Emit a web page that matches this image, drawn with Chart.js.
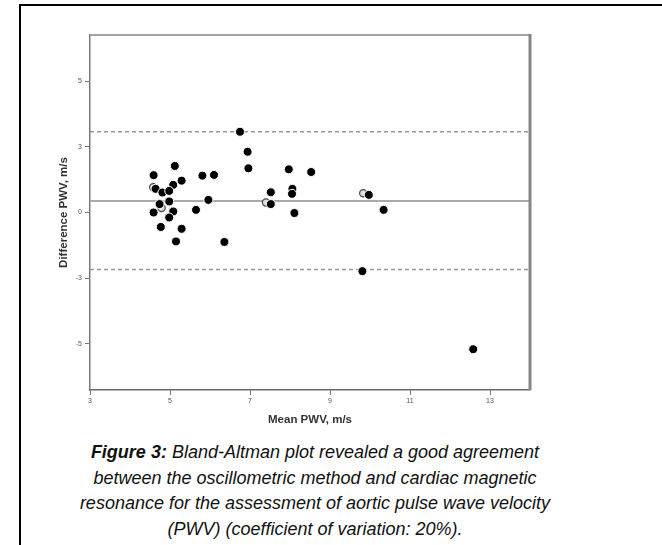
<!DOCTYPE html>
<html>
<head>
<meta charset="utf-8">
<script src="https://cdn.jsdelivr.net/npm/chart.js"></script>
<style>
  html, body { margin: 0; padding: 0; background: #fff; overflow: hidden; }
  body { width: 662px; height: 545px; position: relative; }
  .frame {
    position: absolute; left: 19px; top: 4px; width: 700px; height: 600px;
    border-left: 2px solid #000; border-top: 2px solid #000;
  }
  .plot { position: absolute; left: 0; top: 0; width: 662px; height: 440px; }
  .caption {
    position: absolute; left: 20px; top: 440px; width: 590px;
    text-align: center; font-family: "Liberation Sans", Arial, sans-serif;
    font-style: italic; font-size: 18px; line-height: 25.7px; color: #111;
  }
  .caption span { display: inline-block; transform: scaleX(1.02); }
</style>
</head>
<body>
<div class="frame"></div>
<div class="plot"><canvas id="baChart" width="662" height="440"></canvas></div>
<div class="caption"><b>Figure 3:</b> Bland-Altman plot revealed a good agreement<br>between the oscillometric method and cardiac magnetic<br>resonance for the assessment of aortic pulse wave velocity<br>(PWV) (coefficient of variation: 20%).</div>

<script>
// Datos (media y diferencia de PWV, m/s)
const meanPwv = [5.12, 4.59, 5.29, 5.08, 5.81, 6.10, 6.75, 6.94, 6.96, 4.64, 4.81, 4.98,
                 4.98, 4.74, 5.96, 4.59, 5.08, 4.98, 5.65, 4.77, 5.29, 5.15, 6.36, 7.52,
                 7.52, 7.97, 8.06, 8.05, 8.11, 8.53, 9.97, 10.34, 9.81, 12.58];
const diffPwv = [1.77, 1.42, 1.21, 1.05, 1.40, 1.43, 3.07, 2.31, 1.68, 0.90, 0.76, 0.82,
                 0.42, 0.32, 0.48, 0.00, 0.04, -0.19, 0.10, -0.55, -0.62, -1.10, -1.12, 0.77,
                 0.32, 1.64, 0.90, 0.71, -0.02, 1.54, 0.67, 0.10, -2.23, -5.20];

// Puntos parcialmente tapados por otros
const overlapMean = [4.58, 4.79, 7.40, 9.83];
const overlapDiff = [0.96, 0.17, 0.38, 0.73];

// Media de la diferencia y límites de concordancia
const biasLine = 0.44;
const upperLimit = 3.07;
const lowerLimit = -2.17;

// Ejes
const xRange = [3, 14];
const yRange = [-6.75, 6.75];
const xTickValues = [3, 5, 7, 9, 11, 13];
const xTickLabels = ['3', '5', '7', '9', '11', '13'];
const yTickValues = [-5, -2.5, 0, 2.5, 5];
const yTickLabels = ['-5', '-3', '0', '3', '5'];

const toPoints = (xs, ys) => xs.map((x, i) => ({ x: x, y: ys[i] }));
const hLine = v => [{ x: xRange[0], y: v }, { x: xRange[1], y: v }];

// Marco superior y derecho del área del gráfico
const plotFrame = {
    id: 'plotFrame',
    afterDraw(chart) {
        const { ctx, chartArea: a } = chart;
        ctx.save();
        ctx.strokeStyle = '#a3a3a3';
        ctx.lineWidth = 2;
        ctx.beginPath();
        ctx.moveTo(a.left, a.top);
        ctx.lineTo(a.right, a.top);
        ctx.stroke();
        ctx.strokeStyle = '#858585';
        ctx.lineWidth = 3;
        ctx.beginPath();
        ctx.moveTo(a.right, a.top - 1);
        ctx.lineTo(a.right, a.bottom);
        ctx.stroke();
        ctx.restore();
    }
};

const tickFont = { family: 'Liberation Sans, Arial', size: 7 };
const titleFont = { family: 'Liberation Sans, Arial', size: 11.5, weight: 'bold' };

const ctx = document.getElementById('baChart').getContext('2d');
const baChart = new Chart(ctx, {
    type: 'scatter',
    data: {
        datasets: [{
            label: 'Difference',
            data: toPoints(meanPwv, diffPwv),
            backgroundColor: '#000',
            borderColor: '#fff',
            borderWidth: 1,
            pointRadius: 4.5,
            order: 0
        }, {
            label: 'Overlap',
            data: toPoints(overlapMean, overlapDiff),
            backgroundColor: '#ddd',
            borderColor: '#444',
            borderWidth: 1.2,
            pointRadius: 3.6,
            order: 1
        }, {
            type: 'line',
            label: 'Mean',
            data: hLine(biasLine),
            borderColor: '#aaaaaa',
            borderWidth: 2,
            pointRadius: 0,
            order: 2
        }, {
            type: 'line',
            label: 'Upper',
            data: hLine(upperLimit),
            borderColor: '#999',
            borderWidth: 1.5,
            borderDash: [4, 3],
            pointRadius: 0,
            order: 2
        }, {
            type: 'line',
            label: 'Lower',
            data: hLine(lowerLimit),
            borderColor: '#999',
            borderWidth: 1.5,
            borderDash: [4, 3],
            pointRadius: 0,
            order: 2
        }]
    },
    options: {
        responsive: false,
        animation: false,
        layout: { padding: { left: 0, top: 35, right: 132, bottom: 0 } },
        plugins: {
            legend: { display: false },
            tooltip: { enabled: false }
        },
        scales: {
            x: {
                type: 'linear',
                min: xRange[0],
                max: xRange[1],
                afterBuildTicks: s => { s.ticks = xTickValues.map(v => ({ value: v })); },
                afterFit: s => { s.height = 50; },
                ticks: {
                    font: tickFont,
                    color: '#555',
                    padding: 2,
                    maxRotation: 0,
                    callback: v => xTickLabels[xTickValues.indexOf(v)]
                },
                grid: { drawOnChartArea: false, tickLength: 5, color: '#777' },
                border: { display: true, color: '#6a6a6a', width: 1.5 },
                title: {
                    display: true,
                    text: 'Mean PWV, m/s',
                    font: titleFont,
                    color: '#333',
                    padding: { top: 0, bottom: 13 }
                }
            },
            y: {
                type: 'linear',
                min: yRange[0],
                max: yRange[1],
                afterBuildTicks: s => { s.ticks = yTickValues.map(v => ({ value: v })); },
                afterFit: s => { s.width = 90; },
                ticks: {
                    font: tickFont,
                    color: '#555',
                    padding: 3,
                    callback: v => yTickLabels[yTickValues.indexOf(v)]
                },
                grid: { drawOnChartArea: false, tickLength: 5, color: '#777' },
                border: { display: true, color: '#7a7a7a', width: 1.5 },
                title: {
                    display: true,
                    text: 'Difference PWV, m/s',
                    font: titleFont,
                    color: '#333',
                    padding: { top: 57, bottom: 0 }
                }
            }
        }
    },
    plugins: [plotFrame]
});
</script>
</body>
</html>
